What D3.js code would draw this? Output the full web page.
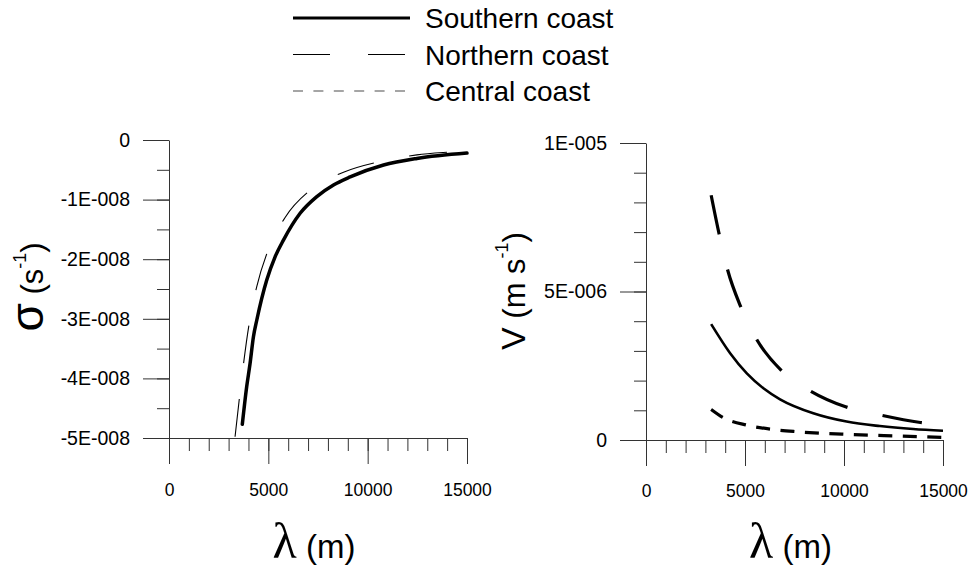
<!DOCTYPE html>
<html>
<head>
  <meta charset="utf-8">
  <script src="https://d3js.org/d3.v7.min.js"></script>
  <style>
    body { margin: 0; background: #fff; }
    text { font-family: "Liberation Sans", Arial, Helvetica, sans-serif; fill: #000; }
  </style>
</head>
<body>
  <div id="chart"></div>

  <script>
    // ---- data ----
    // left panel: growth rate sigma (s^-1) against wavelength lambda (m)
    var sigmaSouthern = [[3690,-4.77e-8],[3910,-4.14e-8],[4080,-3.75e-8],[4250,-3.30e-8],[4420,-3.02e-8],
      [4920,-2.35e-8],[5340,-1.96e-8],[5760,-1.68e-8],[6600,-1.23e-8],[7440,-0.95e-8],[8280,-0.755e-8],
      [9120,-0.62e-8],[10800,-0.42e-8],[12480,-0.31e-8],[15000,-0.22e-8]];
    var sigmaNorthern = [[3325,-4.98e-8],[3544,-4.33e-8],[4031,-3.09e-8],[4417,-2.46e-8],[4975,-1.86e-8],
      [5845,-1.30e-8],[7155,-0.83e-8],[8783,-0.54e-8],[10630,-0.36e-8],[12480,-0.25e-8],
      [14410,-0.196e-8],[15000,-0.18e-8]];

    // right panel: velocity V (m s^-1) against wavelength lambda (m)
    var vSouthern = [[3291,3.90e-6],[4249,2.92e-6],[5091,2.24e-6],[5928,1.74e-6],[6770,1.37e-6],
      [8450,0.90e-6],[10130,0.62e-6],[11810,0.47e-6],[13490,0.37e-6],[15000,0.31e-6]];
    var vNorthern = [[3291,8.24e-6],[3695,6.93e-6],[4113,5.75e-6],[4788,4.48e-6],[5560,3.42e-6],
      [6819,2.35e-6],[8282,1.66e-6],[10080,1.12e-6],[11845,0.84e-6],[13860,0.59e-6],[15000,0.50e-6]];
    var vCentral = [[3291,1.03e-6],[3911,0.75e-6],[5091,0.50e-6],[6351,0.36e-6],[7611,0.28e-6],
      [10130,0.19e-6],[12650,0.135e-6],[15000,0.09e-6]];

    // ticks
    var xTicks = [0, 5000, 10000, 15000];
    var xMinorTicks = d3.range(0, 15001, 1000);
    var sigmaTicks = [0, -1e-8, -2e-8, -3e-8, -4e-8, -5e-8];
    var sigmaTickLabels = ["0", "-1E-008", "-2E-008", "-3E-008", "-4E-008", "-5E-008"];
    var sigmaMinorTicks = d3.range(0, 11).map(function(i) { return -i * 0.5e-8; });
    var vTicks = [0, 5e-6, 1e-5];
    var vTickLabels = ["0", "5E-006", "1E-005"];
    var vMinorTicks = d3.range(0, 11).map(function(i) { return i * 1e-6; });

    var legendNames = ["Southern coast", "Northern coast", "Central coast"];

    var svg = d3.select("#chart")
      .append("svg")
      .attr("width", 976)
      .attr("height", 569);

    // ---- scales ----
    var xLeft = d3.scaleLinear().domain([0, 15000]).range([169, 467]);
    var yLeft = d3.scaleLinear().domain([-5e-8, 0]).range([438, 140]);
    var xRight = d3.scaleLinear().domain([0, 15000]).range([646, 943]);
    var yRight = d3.scaleLinear().domain([0, 1e-5]).range([440, 143]);

    function drawAxes(x, y, yTicks, yLabels, yMinor, xPad) {
      var y0 = y.range()[0], x0 = x.range()[0];

      // minor ticks first
      svg.append("g")
        .attr("transform", "translate(0," + y0 + ")")
        .style("color", "#333")
        .call(d3.axisBottom(x).tickValues(xMinorTicks).tickSize(13).tickSizeOuter(0).tickFormat(""))
        .select(".domain").remove();
      svg.append("g")
        .attr("transform", "translate(" + x0 + ",0)")
        .style("color", "#333")
        .call(d3.axisLeft(y).tickValues(yMinor).tickSize(12).tickSizeOuter(0).tickFormat(""))
        .select(".domain").remove();

      // major ticks + labels
      var gx = svg.append("g")
        .attr("transform", "translate(0," + y0 + ")")
        .style("color", "#333")
        .call(d3.axisBottom(x).tickValues(xTicks).tickSize(26).tickSizeOuter(0).tickPadding(xPad)
          .tickFormat(d3.format("d")));
      gx.selectAll("text").style("font-size", "17.5px").attr("fill", "#000");

      var gy = svg.append("g")
        .attr("transform", "translate(" + x0 + ",0)")
        .style("color", "#333")
        .call(d3.axisLeft(y).tickValues(yTicks).tickSize(26).tickSizeOuter(0).tickPadding(13)
          .tickFormat(function(d, i) { return yLabels[i]; }));
      gy.selectAll("text").style("font-size", "19.5px").attr("fill", "#000");
    }

    drawAxes(xLeft, yLeft, sigmaTicks, sigmaTickLabels, sigmaMinorTicks, 20);
    drawAxes(xRight, yRight, vTicks, vTickLabels, vMinorTicks, 19);

    // ---- curves ----
    function curve(x, y) {
      return d3.line()
        .x(function(d) { return x(d[0]); })
        .y(function(d) { return y(d[1]); })
        .curve(d3.curveMonotoneX);
    }
    var lineL = curve(xLeft, yLeft);
    var lineR = curve(xRight, yRight);

    svg.append("path").datum(sigmaNorthern)
      .attr("d", lineL).attr("fill", "none").attr("stroke", "#000")
      .attr("stroke-width", 1.1).attr("stroke-dasharray", "38,36");
    svg.append("path").datum(sigmaSouthern)
      .attr("d", lineL).attr("fill", "none").attr("stroke", "#000")
      .attr("stroke-width", 3.5).attr("stroke-linecap", "round");

    svg.append("path").datum(vNorthern)
      .attr("d", lineR).attr("fill", "none").attr("stroke", "#000")
      .attr("stroke-width", 3.2).attr("stroke-dasharray", "40,36");
    svg.append("path").datum(vSouthern)
      .attr("d", lineR).attr("fill", "none").attr("stroke", "#000")
      .attr("stroke-width", 2.6);
    svg.append("path").datum(vCentral)
      .attr("d", lineR).attr("fill", "none").attr("stroke", "#000")
      .attr("stroke-width", 3.2).attr("stroke-dasharray", "14,10.5");

    // ---- axis titles ----
    function xTitle(x) {
      var r = x.range();
      var t = svg.append("text")
        .attr("x", (r[0] + r[1]) / 2 - 4)
        .attr("y", 558)
        .attr("text-anchor", "middle");
      t.append("tspan").style("font-family", "'Liberation Serif', 'Times New Roman', serif")
        .style("font-size", "50px").text("λ");
      t.append("tspan").style("font-size", "33px").text(" (m)");
    }
    xTitle(xLeft);
    xTitle(xRight);

    var ts = svg.append("text")
      .attr("transform", "translate(43,287) rotate(-90)")
      .attr("text-anchor", "middle");
    ts.append("tspan").style("font-size", "46px").text("σ");
    ts.append("tspan").style("font-size", "31px").text(" (s");
    ts.append("tspan").style("font-size", "18px").attr("dy", -17).text("-1");
    ts.append("tspan").style("font-size", "31px").attr("dy", 17).text(")");

    var tv = svg.append("text")
      .attr("transform", "translate(525,291) rotate(-90)")
      .attr("text-anchor", "middle");
    tv.append("tspan").style("font-size", "34px").text("V");
    tv.append("tspan").style("font-size", "31px").text(" (m s");
    tv.append("tspan").style("font-size", "18px").attr("dy", -17).text("-1");
    tv.append("tspan").style("font-size", "31px").attr("dy", 17).text(")");

    // ---- legend ----
    var legendStyle = [
      { w: 3, dash: null, color: "#000" },
      { w: 1.1, dash: "37,38", color: "#000" },
      { w: 1.5, dash: "10,10.4", color: "#888" }
    ];
    var legend = svg.append("g");
    legendNames.forEach(function(name, i) {
      var ly = 18 + i * 36.5;
      legend.append("line")
        .attr("x1", 293).attr("x2", 410).attr("y1", ly).attr("y2", ly)
        .attr("stroke", legendStyle[i].color)
        .attr("stroke-width", legendStyle[i].w)
        .attr("stroke-dasharray", legendStyle[i].dash);
      legend.append("text")
        .attr("x", 425).attr("y", ly + 10)
        .style("font-size", "28px")
        .text(name);
    });
  </script>
</body>
</html>
